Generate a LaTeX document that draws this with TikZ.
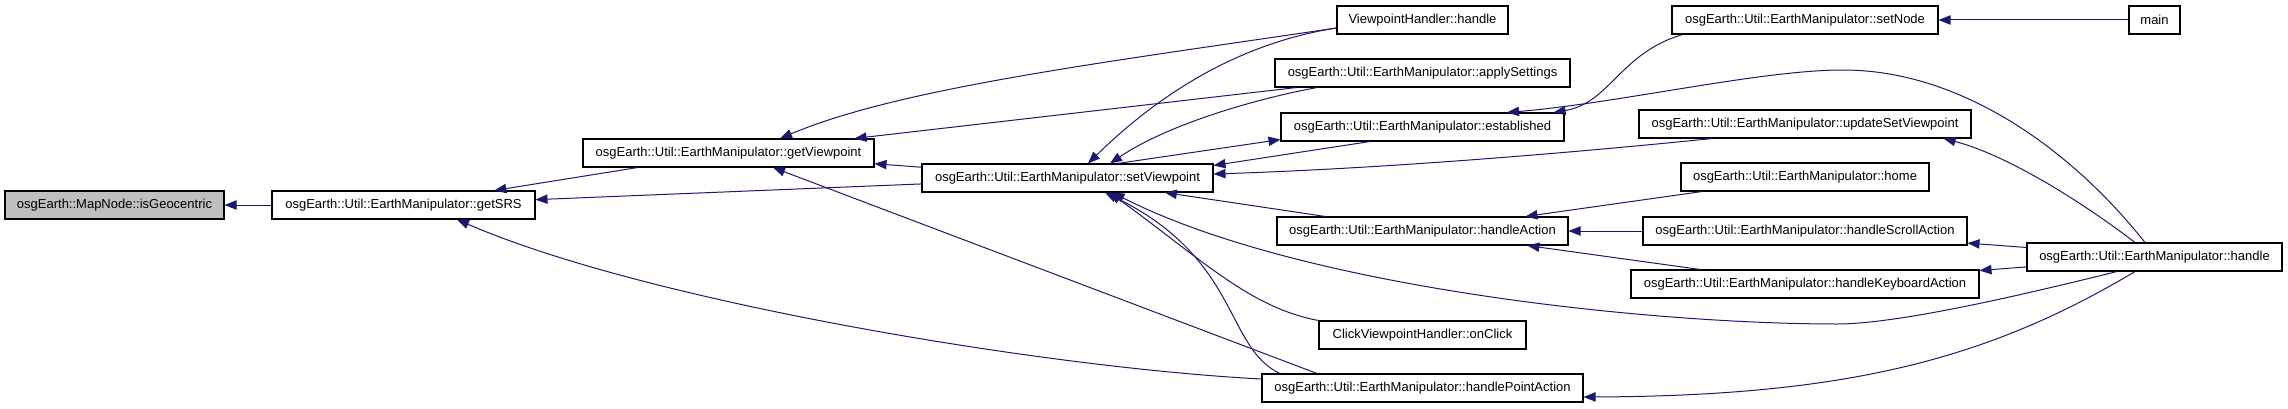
\documentclass[tikz,border=0pt]{standalone}
\usepackage{fontspec}
\setmainfont{Liberation Sans}
\usepackage{xcolor}
\usepackage{tikz}
\usetikzlibrary{arrows.meta, positioning}
\usetikzlibrary{calc}

\definecolor{edgeblue}{HTML}{191970}
\definecolor{rootgray}{HTML}{BFBFBF}

\tikzset{
  fn/.style={draw=black, line width=0.8pt, rectangle, fill=white,
    minimum height=21pt, inner sep=0pt, font=\fontsize{9.75}{12}\selectfont},
  call/.style={draw=edgeblue, line width=0.75pt, -{Triangle[length=9pt, width=7pt]}}
}

\begin{document}
\begin{tikzpicture}[x=0.75pt, y=0.75pt]
            \useasboundingbox (0,0) rectangle (2288,408);
            \node[fn, fill=rootgray, minimum width=164.25pt] (isgeo) at (114.5,203) {osgEarth::MapNode::isGeocentric};
            \node[fn, minimum width=197.25pt] (getsrs) at (403.5,203) {osgEarth::Util::EarthManipulator::getSRS};
            \node[fn, minimum width=218.25pt] (getvp) at (728.5,255) {osgEarth::Util::EarthManipulator::getViewpoint};
            \node[fn, minimum width=218.25pt] (setvp) at (1067.5,230) {osgEarth::Util::EarthManipulator::setViewpoint};
            \node[fn, minimum width=128.25pt] (vphandle) at (1422.5,388) {ViewpointHandler::handle};
            \node[fn, minimum width=221.25pt] (applyset) at (1422.5,335) {osgEarth::Util::EarthManipulator::applySettings};
            \node[fn, minimum width=212.25pt] (established) at (1422.5,281) {osgEarth::Util::EarthManipulator::established};
            \node[fn, minimum width=218.25pt] (handleact) at (1422.5,177) {osgEarth::Util::EarthManipulator::handleAction};
            \node[fn, minimum width=155.25pt] (onclick) at (1422.5,73) {ClickViewpointHandler::onClick};
            \node[fn, minimum width=240.75pt] (handlepoint) at (1422.5,20) {osgEarth::Util::EarthManipulator::handlePointAction};
            \node[fn, minimum width=199.5pt] (setnode) at (1805,388) {osgEarth::Util::EarthManipulator::setNode};
            \node[fn, minimum width=249pt] (updatevp) at (1805,284) {osgEarth::Util::EarthManipulator::updateSetViewpoint};
            \node[fn, minimum width=186pt] (home) at (1805,231) {osgEarth::Util::EarthManipulator::home};
            \node[fn, minimum width=243pt] (scrollact) at (1805,177) {osgEarth::Util::EarthManipulator::handleScrollAction};
            \node[fn, minimum width=261pt] (keyact) at (1805,124) {osgEarth::Util::EarthManipulator::handleKeyboardAction};
            \node[fn, minimum width=38.25pt] (main) at (2154.5,388) {main};
            \node[fn, minimum width=191.25pt] (emhandle) at (2154.5,151) {osgEarth::Util::EarthManipulator::handle};

            \draw[call] (getsrs) -- (isgeo);
            \draw[call] (getvp) -- (getsrs);
            \draw[call] (setvp) -- (getsrs);
            \draw[call] ($(handlepoint.west)+(0,9)$) .. controls (1050,40) and (650,105) .. ($(getsrs.south)+(53.5,0)$);
            \draw[call] (setvp) -- (getvp);
            \draw[call] ($(vphandle.west)+(0,-8)$) .. controls (1100,345) and (900,320) .. ($(getvp.north)+(51.5,0)$);
            \draw[call] (applyset) -- (getvp);
            \draw[call] ($(handlepoint.north)+(-105.5,0)$) -- ($(getvp.south)+(44.5,0)$);
            \draw[call] ($(vphandle.west)+(0,-8)$) .. controls (1240,365) and (1160,315) .. ($(setvp.north)+(20.5,0)$);
            \draw[call] ($(applyset.south)+(-105.5,0)$) .. controls (1260,310) and (1170,285) .. ($(setvp.north)+(42.5,0)$);
            \draw[call] ($(established.south)+(-52.5,0)$) -- ($(setvp.north east)+(0,-2)$);
            \draw[call] ($(setvp.north)+(50,0)$) -- ($(established.south west)+(0,2)$);
            \draw[call] ($(updatevp.south)+(-93,0)$) .. controls (1600,258) and (1400,240) .. ($(setvp.east)+(0,4)$);
            \draw[call] (handleact) -- (setvp);
            \draw[call] ($(handlepoint.north)+(-142.5,0)$) .. controls (1225,60) and (1240,150) .. ($(setvp.south)+(37.5,0)$);
            \draw[call] (onclick.north west) .. controls (1250,100) and (1200,150) .. ($(setvp.south)+(42,0)$);
            \draw[call] ($(emhandle.south)+(-37.5,0)$) .. controls (2030,115) and (1900,84) .. (1837,84)
              .. controls (1650,84) and (1300,120) .. ($(setvp.south)+(45,0)$);
            \draw[call] ($(setnode.south west)+(11,0)$) .. controls (1620,355) and (1610,305) .. ($(established.north east)+(-11,0)$);
            \draw[call] ($(emhandle.north)+(-9.5,0)$) .. controls (2070,260) and (1960,338) .. (1843,338)
              .. controls (1760,338) and (1620,305) .. ($(established.north)+(84.5,0)$);
            \draw[call] (main) -- (setnode);
            \draw[call] ($(emhandle.north)+(-19.5,0)$) .. controls (2070,215) and (2000,255) .. ($(updatevp.south east)+(-28,0)$);
            \draw[call] (home) -- (handleact);
            \draw[call] (scrollact) -- (handleact);
            \draw[call] (keyact) -- (handleact);
            \draw[call] (emhandle) -- (scrollact);
            \draw[call] (emhandle) -- (keyact);
            \draw[call] ($(emhandle.south)+(-19.5,0)$) .. controls (1990,50) and (1850,12) .. ($(handlepoint.east)+(0,-9)$);
        \end{tikzpicture}
\end{document}
